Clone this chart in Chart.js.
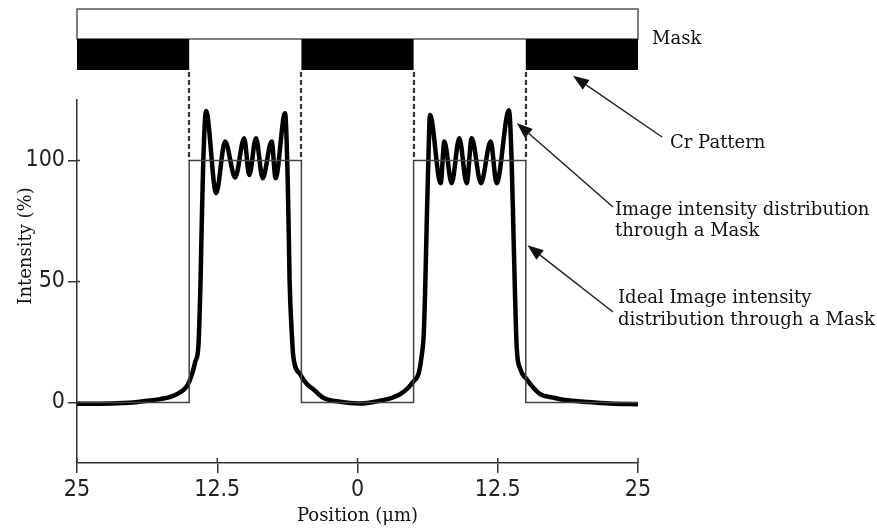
<!DOCTYPE html>
<html>
<head>
<meta charset="utf-8">
<script src="https://cdn.jsdelivr.net/npm/chart.js@4"></script>
<style>
  html, body { margin: 0; padding: 0; background: #fff; }
</style>
</head>
<body>
<canvas id="maskChart" width="877" height="532"></canvas>
<script>
// image intensity through the mask
const positions = [-25, -22, -20, -18.5, -17.6, -16.3, -15.2, -14.8, -14.45, -14.19, -14.1, -14.0, -13.89, -13.75, -13.5,
  -12.6, -11.8, -10.9, -10.1, -9.65, -9.05, -8.45, -7.65, -7.3, -6.46, -6.2, -6.05, -5.85, -5.72, -5.12,
  -4.5, -3.94, -3.05, -1.56, 0.2, 2.0, 3.0, 3.79, 4.5, 4.97, 5.45, 5.71, 5.9, 6.02, 6.16, 6.31, 6.46,
  7.41, 7.74, 8.39, 9.07, 9.73, 10.18, 11.0, 11.87, 12.4, 13.5, 13.74, 13.89, 14.04, 14.19, 14.5, 15.08,
  15.6, 16.3, 17.45, 18.5, 20.4, 22.5, 25]
const intensity = [-0.5, -0.4, 0, 0.8, 1.4, 3, 6.8, 11, 17, 22.7, 32, 48, 72, 99, 120.5,
  86.5, 107.8, 93, 109.2, 94, 109.2, 92.7, 107.8, 92.7, 119.5, 88, 50, 28, 19, 11.7,
  7.5, 5.5, 2, 0.3, -0.4, 0.7, 1.8, 3.4, 6, 8.6, 12, 19, 28, 44.6, 72, 99.5, 118.8,
  90.6, 107.8, 90.6, 109.2, 90.6, 109.2, 90.6, 107.8, 90.6, 120.8, 99.5, 72, 44.6, 22.7, 14, 9.6,
  6.5, 3.4, 2, 1, 0.25, -0.4, -0.7]

// ideal (step) image
const idealX = [-25, -15, -15, -5, -5, 5, 5, 15, 15, 25]
const idealY = [0, 0, 100, 100, 0, 0, 100, 100, 0, 0]

// chrome pattern on the mask, and edges of the openings
const crPattern = [[-25, -15], [-5, 5], [15, 25]]
const maskEdges = [-15, -5, 5, 15]

const xTickValues = [-25, -12.5, 0, 12.5, 25]
const xTickLabels = ['25', '12.5', '0', '12.5', '25']
const yTickValues = [0, 50, 100]

const serif = "'DejaVu Serif', 'Liberation Serif', serif"
const narrow = "'Liberation Sans Narrow', 'DejaVu Sans Condensed', sans-serif"

const toXY = (xs, ys) => xs.map((x, i) => ({ x: x, y: ys[i] }))

// mask drawing, dashed guides, call-out arrows and y title
const maskPlugin = {
  id: 'maskNotes',
  afterDraw(chart) {
    const { ctx, chartArea } = chart
    const xs = chart.scales.x
    const ys = chart.scales.y
    const left = xs.getPixelForValue(-25)
    const right = xs.getPixelForValue(25)
    const top = chartArea.top - 91
    const barTop = chartArea.top - 61
    const barBottom = chartArea.top - 30

    ctx.save()
    // small inner tick marks (the axis ticks cross the axis line)
    ctx.strokeStyle = '#333'
    ctx.lineWidth = 1.5
    xTickValues.forEach(v => {
      const x = xs.getPixelForValue(v)
      ctx.beginPath()
      ctx.moveTo(x, chartArea.bottom)
      ctx.lineTo(x, chartArea.bottom - 5)
      ctx.stroke()
    })
    yTickValues.forEach(v => {
      const y = ys.getPixelForValue(v)
      ctx.beginPath()
      ctx.moveTo(chartArea.left, y)
      ctx.lineTo(chartArea.left + 3, y)
      ctx.stroke()
    })

    // glass
    ctx.strokeStyle = '#555'
    ctx.strokeRect(left, top, right - left, barTop - top)
    // chrome
    ctx.fillStyle = '#000'
    crPattern.forEach(([a, b]) => {
      const x0 = xs.getPixelForValue(a)
      const x1 = xs.getPixelForValue(b)
      ctx.fillRect(x0, barTop, x1 - x0, barBottom - barTop)
    })
    // dashed guides
    ctx.strokeStyle = '#333'
    ctx.lineWidth = 2.2
    ctx.setLineDash([5, 3])
    maskEdges.forEach(e => {
      const x = Math.round(xs.getPixelForValue(e))
      ctx.beginPath()
      ctx.moveTo(x, barBottom + 2)
      ctx.lineTo(x, ys.getPixelForValue(100))
      ctx.stroke()
    })
    ctx.setLineDash([])

    // arrows: tail in pixels, tip in data units
    const arrow = (tx, ty, vx, vy) => {
      const hx = xs.getPixelForValue(vx)
      const hy = ys.getPixelForValue(vy)
      const ang = Math.atan2(hy - ty, hx - tx)
      const len = 16, half = 6
      const bx = hx - len * Math.cos(ang)
      const by = hy - len * Math.sin(ang)
      ctx.strokeStyle = '#222'
      ctx.lineWidth = 1.5
      ctx.beginPath()
      ctx.moveTo(tx, ty)
      ctx.lineTo(bx, by)
      ctx.stroke()
      ctx.fillStyle = '#111'
      ctx.beginPath()
      ctx.moveTo(hx, hy)
      ctx.lineTo(bx + half * Math.sin(ang), by - half * Math.cos(ang))
      ctx.lineTo(bx - half * Math.sin(ang), by + half * Math.cos(ang))
      ctx.closePath()
      ctx.fill()
    }
    arrow(662, 137, 19.2, 135)
    arrow(613, 207, 14.2, 115.5)
    arrow(613, 312, 15.15, 65)

    ctx.fillStyle = '#111'
    ctx.font = '18px ' + serif
    ctx.textAlign = 'left'
    ctx.textBaseline = 'alphabetic'
    ctx.fillText('Mask', 652, 44)
    ctx.fillText('Cr Pattern', 670, 148)
    ctx.fillText('Image intensity distribution', 615, 215)
    ctx.fillText('through a Mask', 615, 236)
    ctx.fillText('Ideal Image intensity', 618, 303)
    ctx.fillText('distribution through a Mask', 618, 325)

    // y title
    ctx.translate(31, 246)
    ctx.rotate(-Math.PI / 2)
    ctx.textAlign = 'center'
    ctx.fillText('Intensity (%)', 0, 0)
    ctx.restore()
  }
}

const config = {
  type: 'line',
  data: {
    datasets: [
      {
        label: 'Ideal',
        data: toXY(idealX, idealY),
        borderColor: '#444',
        borderWidth: 1.5,
        tension: 0,
        pointRadius: 0,
        fill: false,
      },
      {
        label: 'Image intensity',
        data: toXY(positions, intensity),
        borderColor: '#000',
        borderWidth: 4.5,
        cubicInterpolationMode: 'monotone',
        pointRadius: 0,
        fill: false,
      },
    ],
  },
  options: {
    responsive: false,
    animation: false,
    layout: { padding: { top: 100, right: 239, left: 0, bottom: 0 } },
    plugins: { legend: { display: false }, tooltip: { enabled: false } },
    scales: {
      x: {
        type: 'linear',
        min: -25,
        max: 25,
        afterBuildTicks: s => { s.ticks = xTickValues.map(v => ({ value: v })) },
        afterFit: s => { s.height = 69 },
        ticks: {
          autoSkip: false,
          maxRotation: 0,
          padding: 3,
          color: '#222',
          font: { family: narrow, size: 23 },
          callback: (v, i) => xTickLabels[i],
        },
        grid: { drawOnChartArea: false, tickLength: 10, color: '#333', lineWidth: 1.5 },
        border: { color: '#333', width: 1.5 },
        title: {
          display: true,
          text: 'Position (μm)',
          color: '#111',
          font: { family: serif, size: 18 },
          padding: { top: 0, bottom: 5 },
        },
      },
      y: {
        min: -25,
        max: 125,
        afterBuildTicks: s => { s.ticks = yTickValues.map(v => ({ value: v })) },
        afterFit: s => { s.width = 77 },
        ticks: {
          padding: 3,
          color: '#222',
          font: { family: narrow, size: 23 },
        },
        grid: { drawOnChartArea: false, tickLength: 9, color: '#333', lineWidth: 1.5 },
        border: { color: '#333', width: 1.5 },
      },
    },
  },
  plugins: [maskPlugin],
}

const ctxMask = document.getElementById('maskChart')
window.maskChart = new Chart(ctxMask, config)
</script>
</body>
</html>
